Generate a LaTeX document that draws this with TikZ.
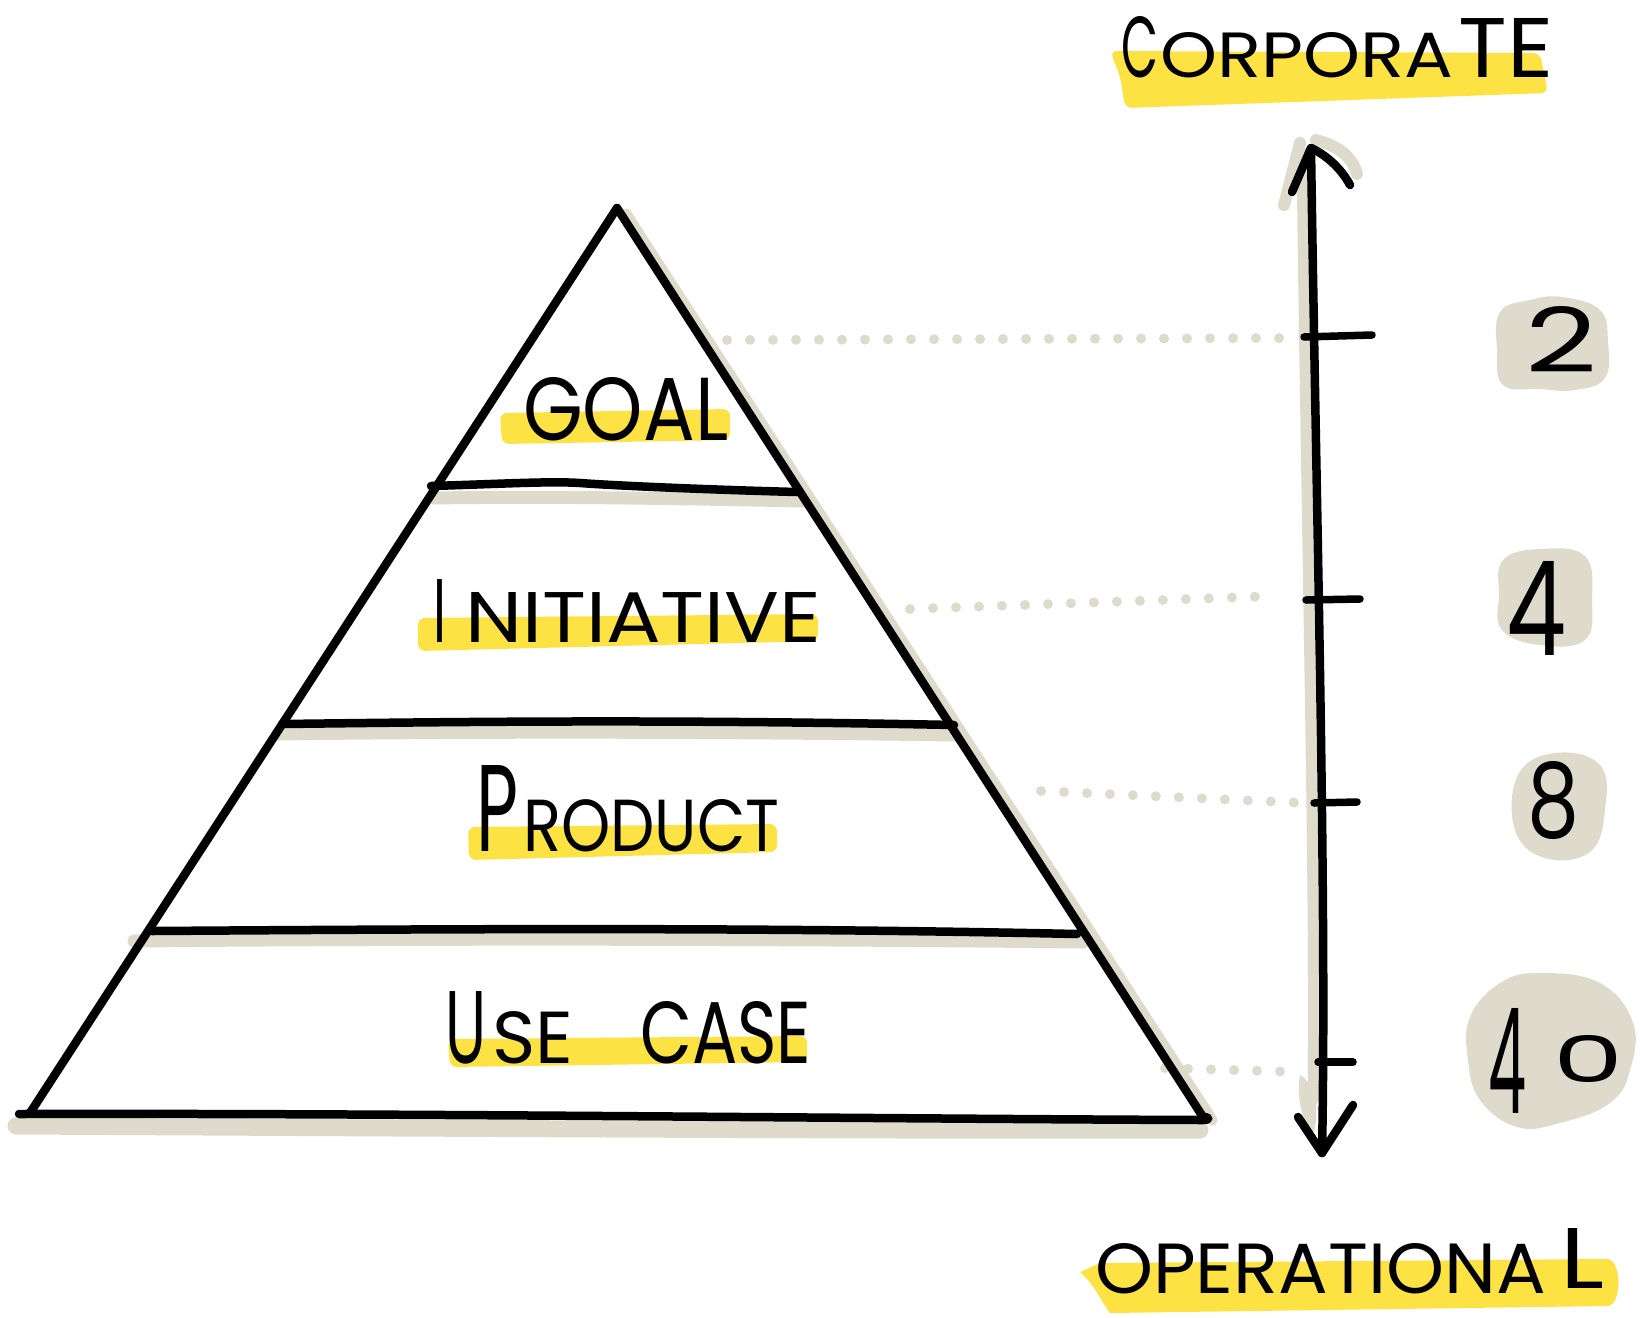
\documentclass[tikz,border=0pt]{standalone}
\usepackage{fontspec}
\setmainfont{Poppins}
\usepackage{graphicx}
\definecolor{beige}{RGB}{222,218,204}
\definecolor{hlyellow}{RGB}{253,226,67}
\newcommand{\hwbox}[3]{\resizebox{#1pt}{#2pt}{#3}}
\begin{document}
\begin{tikzpicture}[x=1pt,y=-1pt,
  ink/.style={draw=black,line width=8.5pt,line cap=round,line join=round},
  shadeline/.style={draw=beige,line width=13pt,line cap=round,line join=round},
  dotrow/.style={draw=beige,line width=10pt,line cap=round,dash pattern=on 0pt off 23pt},
  hl/.style={fill=hlyellow,rounded corners=7pt},
  blob/.style={fill=beige},
  lbl/.style={inner sep=0pt,anchor=base west},
  tickmark/.style={draw=black,line width=7.5pt,line cap=round}]
\useasboundingbox (0,0) rectangle (1640,1317);

% ---------- named points ----------
\coordinate (apex) at (617,208);
\coordinate (pbl) at (30,1113);
\coordinate (pbr) at (1203,1117);
\coordinate (axtop) at (1311,148);
\coordinate (axbot) at (1322,1153);

% ---------- beige shadows ----------
\draw[shadeline,line width=11pt] (626,214) -- (1212,1120);
\draw[shadeline] (434,498) .. controls (560,496) and (700,499) .. (805,501);
\draw[shadeline] (278,734) .. controls (500,731) and (750,732) .. (957,735);
\draw[shadeline] (134,941) .. controls (450,938) and (800,939) .. (1083,942);
\draw[shadeline,line width=17pt] (16,1126) .. controls (400,1128) and (900,1131) .. (1200,1130);
% shadow of the axis
\draw[shadeline,line width=11pt] (1302,152) .. controls (1306,500) and (1316,900) .. (1313,1100);
\draw[shadeline,line width=12pt] (1284,205) -- (1300,143);
\draw[shadeline,line width=12pt] (1316,140) .. controls (1338,146) and (1352,156) .. (1357,174);
\fill[beige] (1300,1075) .. controls (1318,1085) and (1320,1120) .. (1312,1135) .. controls (1302,1120) and (1296,1095) .. cycle;

% ---------- dotted guides ----------
\draw[dotrow] (727,340) -- (1295,338);
\draw[dotrow] (910,609) -- (1274,596);
\draw[dotrow] (1041,791) -- (1305,803);
\draw[dotrow] (1165,1068) -- (1300,1072);

% ---------- number blobs ----------
\fill[blob] plot[smooth cycle,tension=0.7] coordinates {(1500,312) (1530,300) (1562,297) (1600,310) (1608,342) (1605,378) (1575,390) (1540,389) (1503,385) (1497,350)};
\fill[blob] plot[smooth cycle,tension=0.7] coordinates {(1503,560) (1540,549) (1585,556) (1592,600) (1585,640) (1540,645) (1502,630) (1499,595)};
\fill[blob] plot[smooth cycle,tension=0.7] coordinates {(1518,775) (1555,753) (1600,765) (1605,810) (1590,852) (1545,858) (1515,830)};
\fill[blob] plot[smooth cycle,tension=0.7] coordinates {(1470,1017) (1500,983) (1540,973) (1600,983) (1633,1023) (1630,1070) (1610,1103) (1560,1123) (1517,1127) (1480,1100) (1468,1060)};

% ---------- yellow highlights ----------
\fill[hl] (500,413) -- (730,409) -- (730,440) -- (502,444) -- cycle;
\fill[hl] (418,618) -- (818,614) -- (818,641) -- (418,651) -- cycle;
\fill[hl] (468,827) -- (777,824) -- (777,852) -- (469,860) -- cycle;
\fill[hl] (448,1039) -- (807,1036) -- (807,1062) -- (450,1067) -- cycle;
\fill[hl] (1110,51) -- (1540,53) -- (1548,93) -- (1125,108) -- (1120,76) -- cycle;
\fill[hlyellow] (1080,1272) -- (1100,1263) -- (1608,1259) .. controls (1622,1262) and (1622,1304) .. (1608,1306) -- (1110,1313) .. controls (1100,1300) and (1095,1285) .. cycle;

% ---------- pyramid ----------
\draw[ink] (pbl) -- (apex) -- (pbr);
\draw[ink] (19,1114) .. controls (400,1113) and (900,1119) .. (1203,1120) .. controls (1210,1120) and (1210,1117) .. (pbr);
\draw[ink] (431,486) .. controls (500,484) and (550,481) .. (580,483) .. controls (620,486) and (720,490) .. (797,492);
\draw[ink] (282,724) .. controls (450,722) and (650,719) .. (954,725);
\draw[ink] (152,931) .. controls (450,929) and (750,927) .. (1077,934);

% ---------- axis ----------
\draw[ink] (axtop) .. controls (1316,500) and (1327,900) .. (axbot);
\draw[ink] (1292,192) -- (axtop) .. controls (1328,156) and (1342,170) .. (1350,185);
\draw[ink] (1298,1117) -- (axbot) -- (1353,1105);
\draw[tickmark] (1304,337) -- (1372,335);
\draw[tickmark] (1306,600) -- (1360,599);
\draw[tickmark] (1314,803) -- (1357,802);
\draw[tickmark] (1318,1062) -- (1353,1062);

% ---------- labels ----------
\node[lbl] (goal) at (523,440) {\hwbox{205}{63}{GOAL}};
\node[lbl] (init) at (433,642) {\hwbox{13}{63}{I}\hspace{19pt}\hwbox{356}{50}{NITIATIVE}};
\node[lbl] (prod) at (476,851) {\hwbox{42}{86}{P}\hspace{5pt}\hwbox{256}{52}{RODUCT}};
\node[lbl] (usecase) at (445,1063) {\hwbox{41}{72}{U}\hspace{6pt}\hwbox{81}{52}{SE}\hspace{67pt}\hwbox{171}{62}{CASE}};
\node[lbl] (corp) at (1121,77) {\hwbox{37}{61}{C}\hspace{2pt}\hwbox{293}{45}{ORPORA}\hspace{5pt}\hwbox{95}{59}{TE}};
\node[lbl] (oper) at (1095,1293) {\hwbox{451}{50}{OPERATIONA}\hspace{14pt}\raisebox{5pt}{\hwbox{44}{60}{L}}};

\node[lbl] (n2) at (1525,372) {\hwbox{72}{66}{2}};
\node[lbl] (n4) at (1506,655) {\hwbox{60}{94}{4}};
\node[lbl] (n8) at (1527,837) {\hwbox{52}{76}{8}};
\node[lbl] (n40) at (1488,1113) {\hwbox{38}{105}{4}\hspace{27pt}\raisebox{31pt}{\hwbox{70}{47}{0}}};
\end{tikzpicture}
\end{document}
